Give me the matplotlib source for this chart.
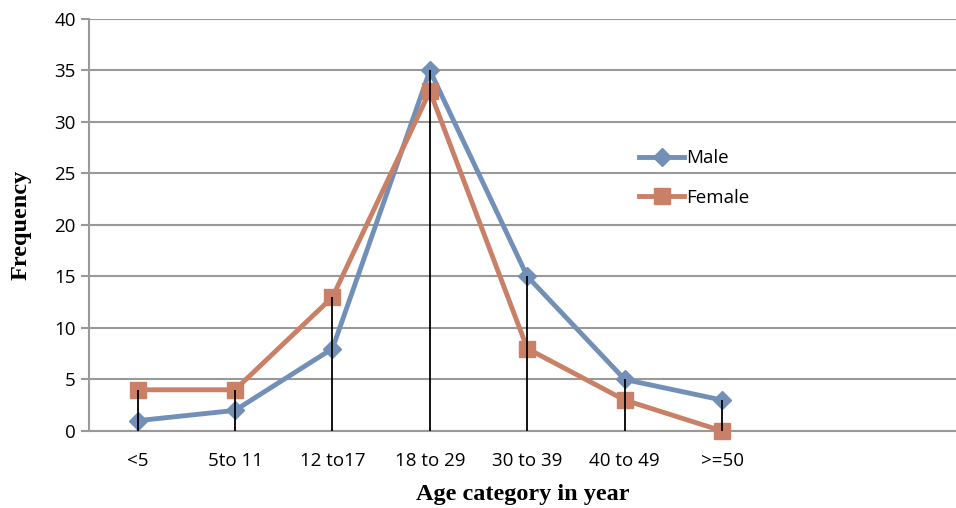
import numpy as np
import matplotlib.pyplot as plt

# age categories and frequencies
categories = ['<5', '5to 11', '12 to17', '18 to 29', '30 to 39', '40 to 49', '>=50']
male = [1, 2, 8, 35, 15, 5, 3]
female = [4, 4, 13, 33, 8, 3, 0]

male_col = '#7290B7'
female_col = '#C98067'

fig = plt.figure(figsize=(9.56, 5.08), dpi=100)
ax = fig.add_axes([0.093, 0.1516, 0.907, 0.811])

x = np.arange(len(categories))
ax.plot(x, male, color=male_col, lw=3.5, marker='D', ms=9, label='Male', zorder=3, clip_on=False)
ax.plot(x, female, color=female_col, lw=3.5, marker='s', ms=11, label='Female', zorder=3, clip_on=False)

# drop lines from the highest point to the axis
top = np.maximum(male, female)
ax.vlines(x, 0, top, color='black', lw=1.3, zorder=4)

ax.set_ylim(0, 40)
ax.set_yticks(range(0, 41, 5))
ax.set_xlim(-0.5, 8.4)
ax.set_xticks(x)
ax.set_xticklabels(categories)
ax.yaxis.grid(True, color='#999999', lw=1.5)
ax.set_axisbelow(True)
for s in ['top', 'right']:
	ax.spines[s].set_visible(False)
ax.spines['left'].set_color('#999999')
ax.spines['left'].set_linewidth(1.5)
ax.spines['bottom'].set_color('#999999')
ax.spines['bottom'].set_linewidth(1.5)
ax.tick_params(axis='x', length=0, pad=15, labelsize=13.5)
ax.tick_params(axis='y', length=6, width=1.5, color='#999999', labelsize=13.5)
for t in ax.get_xticklabels() + ax.get_yticklabels():
	t.set_family('Open Sans')

ax.set_xlabel('Age category in year', family='Liberation Serif', weight='bold', fontsize=17.5, labelpad=10)
ax.set_ylabel('Frequency', family='Liberation Serif', weight='bold', fontsize=17.5, labelpad=16)

leg = ax.legend(loc='upper left', bbox_to_anchor=(0.615, 0.725), frameon=False,
	prop={'family': 'Open Sans', 'size': 13.5}, handlelength=2.4, handletextpad=0.1,
	labelspacing=1.15)

fig.savefig('out.png', dpi=100)
